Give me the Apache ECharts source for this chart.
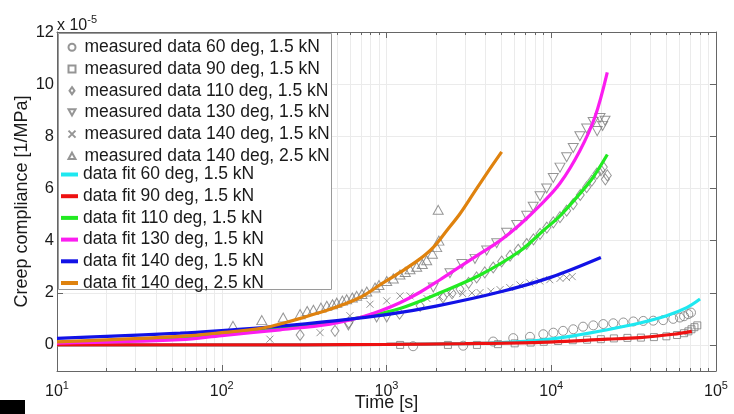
<!DOCTYPE html>
<html><head><meta charset="utf-8">
<script src="https://cdn.jsdelivr.net/npm/echarts@6/dist/echarts.min.js"></script>
<style>html,body{margin:0;padding:0;background:#fff}#c{width:734px;height:414px}</style>
</head><body><div id="c"></div>
<script>
// ---------- tick labels ----------
const yTicks = [0, 2, 4, 6, 8, 10, 12];
const xMajor = [10, 100, 1000, 10000, 100000];
const xMinor = [20,30,40,50,60,70,80,90,200,300,400,500,600,700,800,900,2000,3000,4000,5000,6000,7000,8000,9000,20000,30000,40000,50000,60000,70000,80000,90000];

// ---------- measured data (time [s], compliance x1e-5 [1/MPa]) ----------
const m60T = [1450, 2920, 4440, 5880, 7430, 8950, 10300, 11800, 13600, 15600, 18000, 20700, 23800, 27400, 31500, 36200, 41600, 47800, 55000, 60400, 64000, 67900, 70500];
const m60V = [-0.05, -0.03, 0.13, 0.26, 0.31, 0.41, 0.47, 0.54, 0.6, 0.7, 0.75, 0.8, 0.83, 0.86, 0.9, 0.92, 0.93, 0.95, 1.0, 1.05, 1.1, 1.18, 1.24];

const m90T = [1210, 2360, 3540, 4750, 6000, 7500, 9000, 11000, 13500, 16500, 20000, 24000, 29000, 35000, 42000, 50000, 58000, 64000, 68000, 71000, 74000, 77000];
const m90V = [0.0, 0.0, 0.0, 0.03, 0.06, 0.09, 0.12, 0.15, 0.18, 0.2, 0.22, 0.25, 0.27, 0.28, 0.3, 0.33, 0.38, 0.45, 0.52, 0.6, 0.68, 0.75];

const m110T = [299, 487, 590, 1200, 1600, 2203, 2500, 2793, 3150, 3524, 3950, 4443, 5000, 5623, 6300, 7095, 7800, 8550, 9400, 10300, 11300, 12400, 13600, 15000, 16400, 17600, 18900, 20000, 20700, 21300, 21900];
const m110V = [0.38, 0.54, 0.85, 1.2, 1.5, 1.82, 1.98, 2.14, 2.38, 2.59, 2.78, 2.97, 3.2, 3.42, 3.65, 3.87, 4.05, 4.26, 4.5, 4.7, 4.9, 5.15, 5.4, 5.75, 6.05, 6.3, 6.57, 6.7, 6.82, 6.35, 6.5];

const m130T = [587, 871, 1003, 1923, 2427, 2871, 3443, 4055, 4665, 5360, 6170, 7095, 7771, 8550, 9380, 10290, 11300, 12400, 13600, 14920, 16400, 17960, 19000, 19770, 20500, 21200];
const m130V = [0.75, 1.05, 1.05, 2.2, 2.75, 3.1, 3.3, 3.62, 3.9, 4.3, 4.6, 4.95, 5.3, 5.7, 6.0, 6.4, 6.8, 7.2, 7.55, 8.0, 8.3, 8.55, 8.2, 8.7, 8.4, 8.6];

const m140aT = [196, 395, 600, 794, 1003, 1207, 1390, 1760, 2100, 2430, 2900, 3300, 3698, 4300, 4890, 5600, 6461, 7400, 8520, 9800, 11300, 12400, 13400];
const m140aV = [0.22, 0.47, 1.12, 1.56, 1.69, 1.88, 1.88, 1.78, 1.85, 1.95, 1.97, 1.99, 2.01, 2.06, 2.12, 2.2, 2.3, 2.38, 2.45, 2.5, 2.55, 2.58, 2.62];

const m140bT = [117, 175, 236, 299, 330, 360, 400, 434, 470, 499, 540, 573, 620, 659, 710, 759, 852, 900, 1003, 1100, 1207, 1300, 1390, 1525, 1650, 1754, 1900, 2017, 2060, 2080];
const m140bV = [0.73, 0.95, 1.05, 1.18, 1.3, 1.35, 1.43, 1.5, 1.56, 1.62, 1.7, 1.75, 1.82, 1.88, 1.95, 2.05, 2.2, 2.3, 2.45, 2.55, 2.7, 2.8, 2.9, 3.0, 3.1, 3.25, 3.5, 3.75, 5.18, 4.0];

// ---------- data fits ----------
const fit60T = [10, 100, 1000, 3000, 4890, 8520, 13600, 21900, 34500, 50100, 66400, 80000];
const fit60V = [0.0, 0.0, 0.02, 0.05, 0.09, 0.18, 0.35, 0.58, 0.84, 1.12, 1.43, 1.76];

const fit90T = [10, 100, 1000, 3000, 8500, 21900, 34500, 55000, 71300];
const fit90V = [0.0, 0.0, 0.02, 0.05, 0.1, 0.22, 0.28, 0.41, 0.52];

const fit110T = [10, 56, 100, 226, 454, 690, 1207, 2113, 3698, 6461, 9000, 11300, 14920, 17960, 21900];
const fit110V = [0.1, 0.28, 0.42, 0.62, 0.85, 1.05, 1.4, 2.0, 2.68, 3.6, 4.4, 4.95, 5.8, 6.43, 7.3];

const fit130T = [10, 56, 100, 226, 454, 690, 912, 1207, 1597, 2113, 2793, 3698, 4890, 6461, 8550, 11300, 14920, 18440, 21880];
const fit130V = [0.07, 0.2, 0.36, 0.58, 0.8, 1.05, 1.3, 1.62, 2.02, 2.5, 3.0, 3.5, 4.0, 4.62, 5.35, 6.2, 7.45, 8.75, 10.45];

const fit140aT = [10, 20, 56, 100, 200, 500, 1000, 2000, 5000, 10000, 20000];
const fit140aV = [0.25, 0.33, 0.45, 0.55, 0.69, 0.93, 1.16, 1.49, 2.05, 2.6, 3.35];

const fit140bT = [10, 56, 100, 178, 226, 454, 690, 912, 1207, 1597, 1923, 2318, 2793, 3365, 4055, 5000];
const fit140bV = [0.12, 0.33, 0.47, 0.65, 0.8, 1.37, 1.82, 2.3, 2.78, 3.3, 3.74, 4.38, 5.03, 5.8, 6.57, 7.4];

const zip = (t, v) => t.map((x, i) => [x, v[i]]);

const FONT = 'Liberation Sans';
const TXT = '#1a1a1a';
const MARK = '#7a7a7a';

function scatter(name, t, v, symbol, size) {
  return {
    name, type: 'scatter', data: zip(t, v), symbol, symbolSize: size,
    itemStyle: { color: 'none', borderColor: MARK, borderWidth: 1 },
    z: 2, silent: true
  };
}
function fit(name, t, v, color) {
  return {
    name, type: 'line', data: zip(t, v), smooth: 0.35, showSymbol: false, symbol: 'none',
    lineStyle: { color, width: 3.2 }, itemStyle: { color }, z: 3, silent: true
  };
}

const mNames = ['measured data 60 deg, 1.5 kN','measured data 90 deg, 1.5 kN','measured data 110 deg, 1.5 kN','measured data 130 deg, 1.5 kN','measured data 140 deg, 1.5 kN','measured data 140 deg, 2.5 kN'];
const fNames = ['data fit 60 deg, 1.5 kN','data fit 90 deg, 1.5 kN','data fit 110 deg, 1.5 kN','data fit 130 deg, 1.5 kN','data fit 140 deg, 1.5 kN','data fit 140 deg, 2.5 kN'];
const crossPath = 'path://M0,0L10,10M10,0L0,10';
const downTri = 'path://M0,0L10,0L5,9Z';
const upTri = 'path://M5,0L10,9L0,9Z';
const diamondPath = 'path://M5,0L10,7L5,14L0,7Z';

const series = [
  scatter(mNames[0], m60T, m60V, 'circle', 9),
  scatter(mNames[1], m90T, m90V, 'rect', 7),
  scatter(mNames[2], m110T, m110V, diamondPath, [8, 11]),
  scatter(mNames[3], m130T, m130V, downTri, [10, 9]),
  scatter(mNames[4], m140aT, m140aV, crossPath, 7),
  scatter(mNames[5], m140bT, m140bV, upTri, [10, 9]),
  fit(fNames[0], fit60T, fit60V, '#1ee8f0'),
  fit(fNames[1], fit90T, fit90V, '#ee1111'),
  fit(fNames[2], fit110T, fit110V, '#22ea22'),
  fit(fNames[3], fit130T, fit130V, '#fb1df0'),
  fit(fNames[4], fit140aT, fit140aV, '#1212e6'),
  fit(fNames[5], fit140bT, fit140bV, '#df820e')
];

const axisLineStyle = { color: '#666', width: 1 };
const gridColor = '#ebebeb';
const supLabel = {
  formatter: v => '{b|10}{s|' + Math.round(Math.log10(v)) + '}',
  rich: {
    b: { fontSize: 16, fontFamily: FONT, color: TXT, verticalAlign: 'bottom' },
    s: { fontSize: 11, fontFamily: FONT, color: TXT, verticalAlign: 'bottom', padding: [0, 0, 9, 0] }
  },
  margin: 9
};

const legendText = { fontSize: 17.5, fontFamily: FONT, color: TXT, lineHeight: 17.5 };
const mLegendData = mNames.map((n, i) => i === 3 ? { name: n, icon: downTri } : (i === 5 ? { name: n, icon: upTri } : n));

const chart = echarts.init(document.getElementById('c'), null, { renderer: 'canvas' });
chart.setOption({
  animation: false,
  backgroundColor: '#fff',
  grid: { left: 57, right: 18, top: 32, bottom: 43, containLabel: false, outerBoundsMode: 'none' },
  xAxis: [
    { type: 'log', logBase: 10, min: 10, max: 100000, position: 'bottom',
      name: 'Time [s]', nameLocation: 'middle', nameGap: 23, nameMoveOverlap: false,
      nameTextStyle: { fontSize: 18, fontFamily: FONT, color: TXT },
      axisLine: { show: true, onZero: false, lineStyle: axisLineStyle },
      axisTick: { show: true, inside: true, length: 6, lineStyle: axisLineStyle, customValues: xMajor },
      axisLabel: Object.assign({ customValues: xMajor }, supLabel),
      splitLine: { show: true, lineStyle: { color: gridColor } } },
    { type: 'log', logBase: 10, min: 10, max: 100000, position: 'top',
      axisLine: { show: true, onZero: false, lineStyle: axisLineStyle },
      axisTick: { show: true, inside: true, length: 6, lineStyle: axisLineStyle, customValues: xMajor },
      axisLabel: { show: false }, splitLine: { show: false } },
    { type: 'log', logBase: 10, min: 10, max: 100000, position: 'bottom',
      axisLine: { show: false, onZero: false },
      axisTick: { show: true, inside: true, length: 3, lineStyle: axisLineStyle, customValues: xMinor },
      axisLabel: { show: false },
      splitLine: { show: true, lineStyle: { color: gridColor } } },
    { type: 'log', logBase: 10, min: 10, max: 100000, position: 'top',
      axisLine: { show: false, onZero: false },
      axisTick: { show: true, inside: true, length: 3, lineStyle: axisLineStyle, customValues: xMinor },
      axisLabel: { show: false }, splitLine: { show: false } }
  ],
  yAxis: [
    { type: 'value', min: -1, max: 12, interval: 1, position: 'left',
      name: 'Creep compliance [1/MPa]', nameLocation: 'middle', nameGap: 26, nameRotate: 90, nameMoveOverlap: false,
      nameTextStyle: { fontSize: 18, fontFamily: FONT, color: TXT },
      axisLine: { show: true, onZero: false, lineStyle: axisLineStyle },
      axisTick: { show: true, inside: true, length: 6, lineStyle: axisLineStyle, customValues: yTicks },
      axisLabel: { customValues: yTicks, fontSize: 16.5, fontFamily: FONT, color: TXT, margin: 3 },
      splitLine: { show: true, lineStyle: { color: gridColor } } },
    { type: 'value', min: -1, max: 12, interval: 1, position: 'right',
      axisLine: { show: true, onZero: false, lineStyle: axisLineStyle },
      axisTick: { show: true, inside: true, length: 6, lineStyle: axisLineStyle, customValues: yTicks },
      axisLabel: { show: false }, splitLine: { show: false } }
  ],
  legend: [
    { data: mLegendData, orient: 'vertical', left: 66, top: 38.3, padding: 0, itemWidth: 7, itemHeight: 7, itemGap: 3.7,
      textStyle: Object.assign({ padding: [0, 0, 0, 4] }, legendText), z: 10, selectedMode: false },
    { data: fNames, orient: 'vertical', left: 61, top: 165.5, padding: 0, itemWidth: 17, itemHeight: 4, itemGap: 3.7, icon: 'rect',
      textStyle: legendText, z: 10, selectedMode: false }
  ],
  graphic: [
    { type: 'rect', shape: { x: 58.5, y: 33.5, width: 273, height: 256 }, style: { fill: '#fff', stroke: '#9a9a9a', lineWidth: 1 }, z: 5 },
    { type: 'text', left: 57, top: 14, style: { text: '{a|x 10}{b|-5}', rich: {
        a: { fontSize: 16, fontFamily: FONT, fill: TXT, verticalAlign: 'bottom' },
        b: { fontSize: 11, fontFamily: FONT, fill: TXT, verticalAlign: 'bottom', padding: [0, 0, 9, 0] } } }, z: 10 },
    { type: 'rect', shape: { x: 0, y: 400, width: 25, height: 14 }, style: { fill: '#000' }, z: 10 }
  ],
  series
});
</script></body></html>
